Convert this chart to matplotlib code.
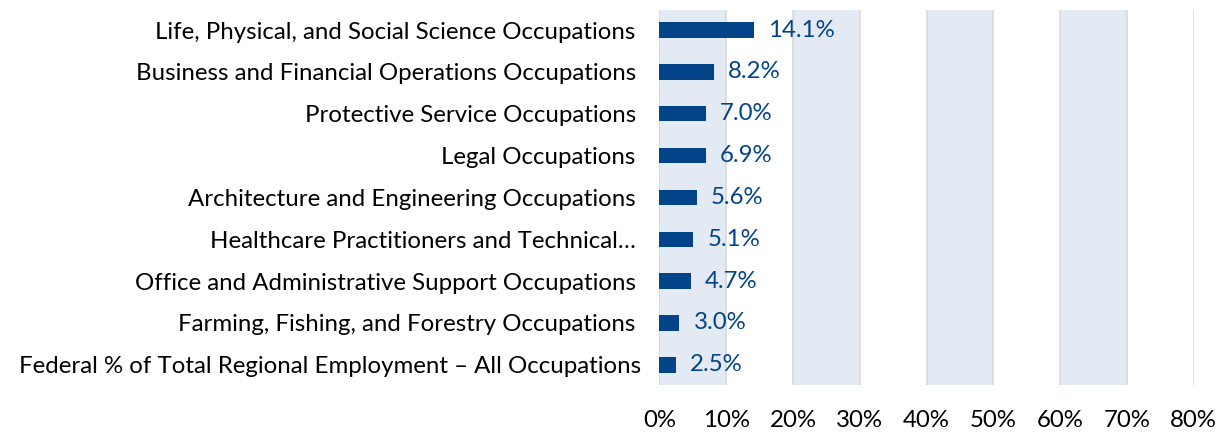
import matplotlib
matplotlib.use("Agg")
import matplotlib.pyplot as plt
import matplotlib.transforms as mtransforms

categories = [
    "Life, Physical, and Social Science Occupations",
    "Business and Financial Operations Occupations",
    "Protective Service Occupations",
    "Legal Occupations",
    "Architecture and Engineering Occupations",
    "Healthcare Practitioners and Technical…",
    "Office and Administrative Support Occupations",
    "Farming, Fishing, and Forestry Occupations",
    "Federal % of Total Regional Employment – All Occupations",
]
values = [14.1, 8.2, 7.0, 6.9, 5.6, 5.1, 4.7, 3.0, 2.5]
xticks = [0, 10, 20, 30, 40, 50, 60, 70, 80]

BAR = "#034389"
BAND = "#E4EAF3"
GRID = "#D9D9D9"
FONT = "Lato"
FS = 17.3

plt.rcParams['font.family'] = [FONT, 'DejaVu Sans']

fig = plt.figure(figsize=(12.28, 4.32), dpi=100)
ax = fig.add_axes([0.537, 0.109, 0.435, 0.868])

n = len(categories)
ypos = list(range(n - 1, -1, -1))
ax.set_xlim(0, 80)
ax.set_ylim(-0.48, n - 0.52)

for i in range(0, 80, 20):
    ax.axvspan(i, i + 10, color=BAND, zorder=0, lw=0)
for t in xticks:
    ax.axvline(t, color=GRID, lw=1.2, zorder=1)

ax.barh(ypos, values, height=0.37, color=BAR, zorder=3)
for y, v in zip(ypos, values):
    ax.text(v + 2.1, y, f"{v:.1f}%", va="center", ha="left", color=BAR,
            fontsize=FS, zorder=4)

ax.set_yticks(ypos)
ax.set_yticklabels(categories, fontsize=FS, color="#000000")
ax.set_xticks(xticks)
ax.set_xticklabels([f"{t}%" for t in xticks], fontsize=FS)
ax.tick_params(axis="y", length=0, pad=17)
ax.tick_params(axis="x", length=0, pad=18)
for s in ax.spines.values():
    s.set_visible(False)

# the last (summary) label sits slightly closer to the axis in the reference
last = ax.get_yticklabels()[-1]
last.set_transform(last.get_transform() +
                   mtransforms.ScaledTranslation(5 / 100, 0, fig.dpi_scale_trans))

fig.savefig("out.png", dpi=100, facecolor="white")
